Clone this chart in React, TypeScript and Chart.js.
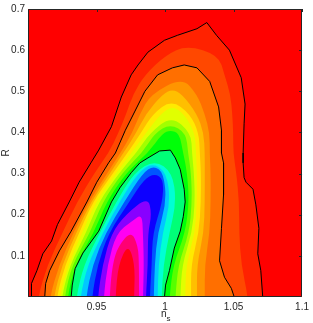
import React, { useEffect, useRef } from 'react';
import { Chart, registerables } from 'chart.js';

Chart.register(...registerables);

// Axis ticks
const xTicks = [0.95, 1, 1.05, 1.1];
const xTickLabels = ['0.95', '1', '1.05', '1.1'];
const yTicks = [0.1, 0.2, 0.3, 0.4, 0.5, 0.6, 0.7];
const yTickLabels = ['0.1', '0.2', '0.3', '0.4', '0.5', '0.6', '0.7'];

// Black contour lines (ns, R), outer -> inner
const outerNs = [0.9022, 0.9022, 0.9029, 0.9065, 0.9108, 0.9172, 0.9215, 0.9301, 0.9373, 0.9459, 0.9516, 0.9609, 0.9681, 0.9753, 0.9803, 0.9875, 0.9996, 1.0090, 1.0233, 1.0305, 1.0376, 1.0470, 1.0556, 1.0584, 1.0577, 1.0570, 1.0570, 1.0577, 1.0591, 1.0642, 1.0663, 1.0685, 1.0677, 1.0699, 1.0713, 1.0713];
const outerR = [-0.03, 0, 0.033, 0.064, 0.105, 0.136, 0.176, 0.231, 0.279, 0.326, 0.357, 0.414, 0.486, 0.540, 0.564, 0.595, 0.624, 0.636, 0.652, 0.667, 0.636, 0.600, 0.533, 0.469, 0.421, 0.350, 0.326, 0.290, 0.279, 0.262, 0.224, 0.167, 0.105, 0.064, 0, -0.03];
const middleNs = [0.9122, 0.9122, 0.9129, 0.9158, 0.9229, 0.9315, 0.9430, 0.9502, 0.9588, 0.9638, 0.9710, 0.9781, 0.9853, 0.9946, 1.0054, 1.0140, 1.0233, 1.0326, 1.0391, 1.0412, 1.0412, 1.0427, 1.0427, 1.0412, 1.0398, 1.0434, 1.0484, 1.0505, 1.0505];
const middleR = [-0.03, 0, 0.033, 0.064, 0.112, 0.160, 0.231, 0.279, 0.326, 0.350, 0.405, 0.452, 0.500, 0.540, 0.557, 0.564, 0.557, 0.524, 0.462, 0.405, 0.350, 0.326, 0.248, 0.167, 0.088, 0.048, 0.021, 0, -0.03];
const innerNs = [0.9315, 0.9315, 0.9323, 0.9344, 0.9401, 0.9516, 0.9609, 0.9674, 0.9753, 0.9817, 0.9875, 0.9961, 1.0039, 1.0075, 1.0111, 1.0140, 1.0147, 1.0133, 1.0111, 1.0068, 1.0032, 1.0004, 0.9996, 0.9996];
const innerR = [-0.03, 0, 0.029, 0.069, 0.107, 0.160, 0.231, 0.267, 0.302, 0.326, 0.338, 0.355, 0.357, 0.338, 0.310, 0.262, 0.231, 0.195, 0.160, 0.119, 0.064, 0.029, 0, -0.03];

// Intermediate filled levels: edges of each level at these R rows
const rRows = [0, 0.079, 0.155, 0.231, 0.302, 0.350, 0.398, 0.445, 0.493, 0.540, 0.588];

const lev13Left = [0.9072, 0.9143, 0.9251, 0.9358, 0.9487, 0.9588, 0.9659, 0.9717, 0.9767, 0.9853, 1.0004];
const lev13Right = [1.0606, 1.0556, 1.0541, 1.0541, 1.0520, 1.0498, 1.0498, 1.0491, 1.0477, 1.0434, 1.0391];
const lev13Cap: [number, number][] = [[1.0161, 0.612]];

const lev30Left = [0.9158, 0.9229, 0.9330, 0.9444, 0.9581, 0.9674, 0.9760, 0.9817, 0.9896];
const lev30Right = [1.0290, 1.0290, 1.0326, 1.0333, 1.0333, 1.0326, 1.0326, 1.0290, 1.0233];
const lev30Cap: [number, number][] = [[1.0125, 0.533]];

const lev40Left = [0.9186, 0.9251, 0.9351, 0.9459, 0.9602, 0.9695, 0.9789, 0.9860, 0.9982];
const lev40Right = [1.0233, 1.0233, 1.0283, 1.0290, 1.0290, 1.0290, 1.0283, 1.0233, 1.0125];
const lev40Cap: [number, number][] = [[1.0054, 0.505]];

const lev50Left = [0.9208, 0.9272, 0.9373, 0.9473, 0.9624, 0.9724, 0.9824, 0.9910];
const lev50Right = [1.0190, 1.0190, 1.0247, 1.0262, 1.0262, 1.0254, 1.0247, 1.0183];
const lev50Cap: [number, number][] = [[1.0047, 0.479]];

const lev60Left = [0.9229, 0.9294, 0.9394, 0.9495, 0.9645, 0.9753, 0.9860, 0.9968];
const lev60Right = [1.0147, 1.0154, 1.0219, 1.0233, 1.0233, 1.0226, 1.0219, 1.0140];
const lev60Cap: [number, number][] = [[1.0054, 0.464]];

const lev75Left = [0.9244, 0.9308, 0.9423, 0.9516, 0.9667, 0.9789, 0.9889];
const lev75Right = [1.0111, 1.0125, 1.0197, 1.0219, 1.0211, 1.0197, 1.0190];
const lev75Cap: [number, number][] = [[1.0047, 0.440]];

const lev90Left = [0.9265, 0.9323, 0.9452, 0.9545, 0.9688, 0.9832, 0.9925];
const lev90Right = [1.0075, 1.0097, 1.0176, 1.0197, 1.0190, 1.0168, 1.0154];
const lev90Cap: [number, number][] = [[1.0039, 0.421]];

const lev110Left = [0.9287, 0.9344, 0.9480, 0.9573, 0.9717, 0.9875, 0.9982];
const lev110Right = [1.0032, 1.0061, 1.0147, 1.0176, 1.0161, 1.0133, 1.0104];
const lev110Cap: [number, number][] = [[1.0039, 0.405]];

const lev160Left = [0.9351, 0.9409, 0.9523, 0.9645, 0.9774];
const lev160Right = [0.9975, 0.9989, 1.0032, 1.0082, 1.0054];
const lev160Cap: [number, number][] = [[0.9925, 0.333]];

const lev180Left = [0.9380, 0.9437, 0.9545, 0.9667, 0.9803];
const lev180Right = [0.9946, 0.9953, 0.9982, 1.0039, 1.0011];
const lev180Cap: [number, number][] = [[0.9910, 0.326]];

const lev210Left = [0.9423, 0.9473, 0.9566, 0.9702, 0.9839];
const lev210Right = [0.9918, 0.9925, 0.9946, 1.0011, 0.9989];
const lev210Cap: [number, number][] = [[0.9918, 0.319]];

const lev240Left = [0.9466, 0.9509, 0.9588, 0.9738];
const lev240Right = [0.9889, 0.9903, 0.9910, 0.9982];
const lev240Cap: [number, number][] = [[0.9846, 0.286], [0.9925, 0.300], [0.9989, 0.286]];

const lev270Left = [0.9509, 0.9545, 0.9609];
const lev270Right = [0.9860, 0.9875, 0.9875];
const lev270Cap: [number, number][] = [[0.9717, 0.202], [0.9875, 0.243], [0.9903, 0.202]];

const lev300Left = [0.9552, 0.9581, 0.9645];
const lev300Right = [0.9839, 0.9846, 0.9839];
const lev300Cap: [number, number][] = [[0.9760, 0.185], [0.9832, 0.202]];

const lev330Left = [0.9595, 0.9616];
const lev330Right = [0.9810, 0.9810];
const lev330Cap: [number, number][] = [[0.9659, 0.124], [0.9753, 0.160], [0.9803, 0.124]];

const lev350Left = [0.9638, 0.9659];
const lev350Right = [0.9774, 0.9781];
const lev350Cap: [number, number][] = [[0.9731, 0.129]];

type Pt = [number, number];

function zip(ns: number[], r: number[]): Pt[] {
  return ns.map((v, i) => [v, r[i]] as Pt);
}

function fromRows(left: number[], right: number[], cap: Pt[]): Pt[] {
  const pts: Pt[] = [[left[0], -0.05]];
  for (let i = 0; i < left.length; i++) pts.push([left[i], rRows[i]]);
  for (const c of cap) pts.push(c);
  for (let i = right.length - 1; i >= 0; i--) pts.push([right[i], rRows[i]]);
  pts.push([right[0], -0.05]);
  return pts;
}

// Filled regions from outer to inner; colour index follows the hsv colour map
const fillShapes: { pts: Pt[]; smooth: boolean }[] = [
  { pts: zip(outerNs, outerR), smooth: false },
  { pts: fromRows(lev13Left, lev13Right, lev13Cap), smooth: true },
  { pts: zip(middleNs, middleR), smooth: false },
  { pts: fromRows(lev30Left, lev30Right, lev30Cap), smooth: true },
  { pts: fromRows(lev40Left, lev40Right, lev40Cap), smooth: true },
  { pts: fromRows(lev50Left, lev50Right, lev50Cap), smooth: true },
  { pts: fromRows(lev60Left, lev60Right, lev60Cap), smooth: true },
  { pts: fromRows(lev75Left, lev75Right, lev75Cap), smooth: true },
  { pts: fromRows(lev90Left, lev90Right, lev90Cap), smooth: true },
  { pts: fromRows(lev110Left, lev110Right, lev110Cap), smooth: true },
  { pts: zip(innerNs, innerR), smooth: false },
  { pts: fromRows(lev160Left, lev160Right, lev160Cap), smooth: true },
  { pts: fromRows(lev180Left, lev180Right, lev180Cap), smooth: true },
  { pts: fromRows(lev210Left, lev210Right, lev210Cap), smooth: true },
  { pts: fromRows(lev240Left, lev240Right, lev240Cap), smooth: true },
  { pts: fromRows(lev270Left, lev270Right, lev270Cap), smooth: true },
  { pts: fromRows(lev300Left, lev300Right, lev300Cap), smooth: true },
  { pts: fromRows(lev330Left, lev330Right, lev330Cap), smooth: true },
  { pts: fromRows(lev350Left, lev350Right, lev350Cap), smooth: true },
];
const fillHues = [8, 17, 26, 35, 45, 55, 67, 82, 100, 122, 148, 170, 193, 220, 243, 272, 303, 333, 355];

const FONT = '"Liberation Sans", Arial, Helvetica, sans-serif';
const TEXT = '#262626';

const contourFill = {
  id: 'contourFill',
  beforeDatasetsDraw(chart: any) {
    const { ctx, chartArea: a, scales } = chart;
    const xs = scales.x, ys = scales.y;
    ctx.save();
    ctx.beginPath();
    ctx.rect(a.left, a.top, a.right - a.left, a.bottom - a.top);
    ctx.clip();
    ctx.fillStyle = 'hsl(0,100%,50%)';
    ctx.fillRect(a.left, a.top, a.right - a.left, a.bottom - a.top);
    fillShapes.forEach((s, k) => {
      const p = s.pts.map(([n, r]) => [xs.getPixelForValue(n), ys.getPixelForValue(r)]);
      ctx.beginPath();
      if (s.smooth) {
        const N = p.length;
        const mid = (u: number[], v: number[]) => [(u[0] + v[0]) / 2, (u[1] + v[1]) / 2];
        const m0 = mid(p[N - 1], p[0]);
        ctx.moveTo(m0[0], m0[1]);
        for (let i = 0; i < N; i++) {
          const q = p[(i + 1) % N];
          const m = mid(p[i], q);
          ctx.quadraticCurveTo(p[i][0], p[i][1], m[0], m[1]);
        }
      } else {
        ctx.moveTo(p[0][0], p[0][1]);
        for (let i = 1; i < p.length; i++) ctx.lineTo(p[i][0], p[i][1]);
      }
      ctx.closePath();
      ctx.fillStyle = `hsl(${fillHues[k]},100%,50%)`;
      ctx.fill();
    });
    ctx.restore();
  },
  afterDraw(chart: any) {
    const { ctx, chartArea: a, scales } = chart;
    ctx.save();
    ctx.strokeStyle = TEXT;
    ctx.lineWidth = 1;
    ctx.beginPath();
    ctx.rect(Math.round(a.left) + 0.5, Math.round(a.top) + 0.5, Math.round(a.right - a.left) - 1, Math.round(a.bottom - a.top) - 1);
    ctx.stroke();
    ctx.beginPath();
    xTicks.forEach((v) => {
      const px = Math.round(scales.x.getPixelForValue(v)) + 0.5;
      ctx.moveTo(px, a.top);
      ctx.lineTo(px, a.top + 3);
    });
    yTicks.forEach((v) => {
      const py = Math.round(scales.y.getPixelForValue(v)) + 0.5;
      ctx.moveTo(a.right, py);
      ctx.lineTo(a.right - 3, py);
    });
    ctx.stroke();
    // axis titles
    ctx.fillStyle = TEXT;
    ctx.font = `10px ${FONT}`;
    ctx.textBaseline = 'middle';
    ctx.textAlign = 'center';
    ctx.save();
    ctx.translate(6, (a.top + a.bottom) / 2);
    ctx.rotate(-Math.PI / 2);
    ctx.fillText('R', 0, 0);
    ctx.restore();
    ctx.textBaseline = 'alphabetic';
    ctx.textAlign = 'left';
    const cx = (a.left + a.right) / 2;
    ctx.fillText('n', cx - 4, 317);
    ctx.font = `8px ${FONT}`;
    ctx.fillText('s', cx + 1.5, 321);
    ctx.restore();
  },
};

function lineSet(ns: number[], r: number[]) {
  return {
    data: ns.map((v, i) => ({ x: v, y: r[i] })),
    showLine: true,
    borderColor: '#000000',
    borderWidth: 1,
    pointRadius: 0,
    fill: false,
    tension: 0,
    clip: 0,
  };
}

export default function App() {
  const ref = useRef<HTMLCanvasElement | null>(null);
  useEffect(() => {
    document.body.style.margin = '0';
    const canvas = ref.current!;
    const chart = new Chart(canvas, {
      type: 'scatter',
      data: {
        datasets: [lineSet(outerNs, outerR), lineSet(middleNs, middleR), lineSet(innerNs, innerR)] as any,
      },
      options: {
        animation: false,
        responsive: false,
        devicePixelRatio: 1,
        layout: { padding: { top: 3, right: 6, left: 0, bottom: 0 } },
        plugins: { legend: { display: false }, tooltip: { enabled: false } },
        scales: {
          x: {
            type: 'linear',
            min: 0.9,
            max: 1.1,
            afterFit: (s: any) => { s.height = 26; },
            afterBuildTicks: (ax: any) => { ax.ticks = xTicks.map((v) => ({ value: v })); },
            ticks: {
              autoSkip: false,
              maxRotation: 0,
              padding: 4,
              color: TEXT,
              font: { family: FONT, size: 10 },
              callback: (_v: any, i: number) => xTickLabels[i],
            },
            grid: { display: false, drawTicks: false, tickLength: 0 },
            border: { display: false },
          },
          y: {
            type: 'linear',
            min: 0,
            max: 0.7,
            afterFit: (s: any) => { s.width = 28; },
            afterBuildTicks: (ax: any) => { ax.ticks = yTicks.map((v) => ({ value: v })); },
            ticks: {
              autoSkip: false,
              padding: 3,
              color: TEXT,
              font: { family: FONT, size: 10 },
              callback: (_v: any, i: number) => yTickLabels[i],
            },
            grid: { display: false, drawTicks: false, tickLength: 0 },
            border: { display: false },
          },
        },
      },
      plugins: [contourFill],
    } as any);
    return () => chart.destroy();
  }, []);
  return (
    <div style={{ width: 313, height: 323 }}>
      <canvas ref={ref} width={313} height={323} style={{ display: 'block', width: 313, height: 323 }} />
    </div>
  );
}
